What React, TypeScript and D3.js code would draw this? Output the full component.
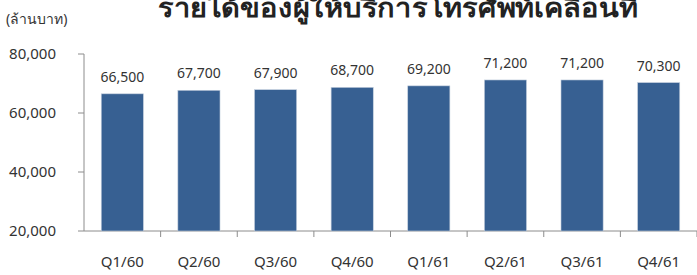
import React from 'react';
import * as d3 from 'd3';

const quarters = ['Q1/60', 'Q2/60', 'Q3/60', 'Q4/60', 'Q1/61', 'Q2/61', 'Q3/61', 'Q4/61'];
const revenue = [66500, 67700, 67900, 68700, 69200, 71200, 71200, 70300];
const yTicks = [20000, 40000, 60000, 80000];

const title = 'รายได้ของผู้ให้บริการโทรศัพท์เคลื่อนที่';
const unitLabel = '(ล้านบาท)';

const App = () => {
  const width = 697;
  const height = 275;
  const margin = { top: 54, right: 0, bottom: 44, left: 84 };
  const font = "'Noto Sans', 'DejaVu Sans', sans-serif";

  const x = d3.scaleBand().domain(quarters).range([margin.left, width - margin.right]).paddingInner(0.45).paddingOuter(0.225);
  const y = d3.scaleLinear().domain([20000, 80000]).range([height - margin.bottom, margin.top]);
  const fmt = d3.format(',');
  const step = x.step();
  const baseY = y(20000);

  return (
    <svg width={width} height={height} style={{ position: 'absolute', left: 0, top: 0, background: '#fff' }}>
      {/* title sits partly above the top edge, as in the source image */}
      <text x={398} y={17} textAnchor="middle" fontFamily={font} fontWeight="bold" fontSize={26}
        textLength={480} lengthAdjust="spacingAndGlyphs" fill="#222">{title}</text>
      <text x={6} y={24} fontFamily={font} fontSize={14} fill="#333">{unitLabel}</text>

      {/* y axis */}
      <line x1={margin.left} x2={margin.left} y1={y(80000)} y2={baseY} stroke="#8c8c8c" />
      {yTicks.map((t) => (
        <g key={t}>
          <line x1={margin.left - 6} x2={margin.left} y1={y(t)} y2={y(t)} stroke="#8c8c8c" />
          <text x={56} y={y(t)} dy="0.35em" textAnchor="end" fontFamily={font} fontSize={15} fill="#333">{fmt(t)}</text>
        </g>
      ))}

      {/* x axis */}
      <line x1={margin.left} x2={width} y1={baseY} y2={baseY} stroke="#8c8c8c" />
      {quarters.map((q, i) => (
        <line key={q} x1={margin.left + step * (i + 1)} x2={margin.left + step * (i + 1)} y1={baseY} y2={baseY + 6} stroke="#8c8c8c" />
      ))}

      {quarters.map((q, i) => {
        const bx = x(q) as number;
        const cx = bx + x.bandwidth() / 2;
        const top = y(revenue[i]);
        return (
          <g key={q}>
            <rect x={bx} y={top} width={x.bandwidth()} height={baseY - top} fill="#376092" stroke="#c5d0de" strokeWidth={0.6} />
            <text x={cx} y={top - 12} textAnchor="middle" fontFamily={font} fontSize={14} fill="#333">{fmt(revenue[i])}</text>
            <text x={cx} y={baseY + 36} textAnchor="middle" fontFamily={font} fontSize={15} fill="#333">{q}</text>
          </g>
        );
      })}
    </svg>
  );
};

export default App;
